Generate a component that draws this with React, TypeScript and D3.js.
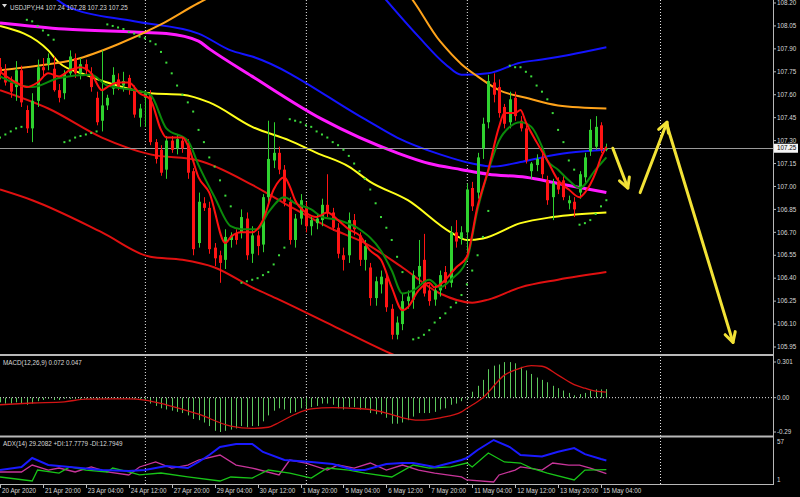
import React from "react";
import * as d3 from "d3";

const W = 800;
const H = 497;

// ---------- time axis ----------
const timeLabels = [
  "20 Apr 2020", "21 Apr 20:00", "23 Apr 04:00", "24 Apr 12:00", "27 Apr 20:00",
  "29 Apr 04:00", "30 Apr 12:00", "1 May 20:00", "5 May 04:00", "6 May 12:00",
  "7 May 20:00", "11 May 04:00", "12 May 12:00", "13 May 20:00", "15 May 04:00",
];
const timeTickBars = [0, 8, 16, 24, 32, 40, 48, 56, 64, 72, 80, 88, 96, 104, 112];
const gridBars = [27, 57, 87, 123];

// ---------- price axis ----------
const priceTicks = [108.2, 108.05, 107.9, 107.75, 107.6, 107.45, 107.3, 107.15, 107.0, 106.85, 106.7, 106.55, 106.4, 106.25, 106.1, 105.95];
const bidPrice = 107.25;

// ---------- candles (USDJPY H4) ----------
const opens = [
  107.78, 107.76, 107.68, 107.65, 107.76, 107.50, 107.38, 107.56, 107.78, 107.80,
  107.77, 107.63, 107.61, 107.74, 107.84, 107.74, 107.80, 107.74, 107.58, 107.43,
  107.53, 107.64, 107.70, 107.66, 107.71, 107.64, 107.45, 107.58, 107.60, 107.29,
  107.24, 107.11, 107.30, 107.25, 107.30, 107.28, 107.10, 106.63, 106.89, 106.86,
  106.60, 106.55, 106.52, 106.65, 106.69, 106.70, 106.79, 106.56, 106.68, 106.62,
  106.93, 107.17, 107.22, 107.11, 106.90, 106.65, 106.79, 106.87, 106.74, 106.76,
  106.78, 106.88, 106.83, 106.73, 106.55, 106.55, 106.78, 106.68, 106.52, 106.47,
  106.27, 106.36, 106.40, 106.20, 106.03, 106.10, 106.25, 106.26, 106.41, 106.52,
  106.32, 106.26, 106.32, 106.44, 106.37, 106.70, 106.66, 106.70, 106.99, 106.96,
  107.25, 107.42, 107.68, 107.65, 107.52, 107.42, 107.58, 107.43, 107.38, 107.10,
  107.14, 107.19, 107.04, 106.93, 107.03, 107.04, 106.89, 106.90, 106.96, 107.06,
  107.23, 107.26, 107.40, 107.24,
];
const highs = [
  107.84, 107.80, 107.72, 107.82, 107.79, 107.53, 107.61, 107.83, 107.84, 107.87,
  107.85, 107.67, 107.76, 107.89, 107.87, 107.84, 107.83, 107.78, 107.62, 107.89,
  107.60, 107.78, 107.74, 107.75, 107.73, 107.66, 107.54, 107.62, 107.63, 107.31,
  107.27, 107.33, 107.33, 107.34, 107.33, 107.31, 107.12, 106.96, 106.93, 106.90,
  106.63, 106.58, 106.72, 106.70, 106.72, 106.85, 106.83, 106.74, 106.71, 106.95,
  107.43, 107.42, 107.26, 107.14, 106.93, 106.82, 106.95, 106.90, 106.80, 106.82,
  106.92, 107.08, 106.86, 106.76, 106.60, 106.83, 106.82, 106.70, 106.65, 106.50,
  106.41, 106.45, 106.43, 106.23, 106.15, 106.30, 106.32, 106.45, 106.65, 106.69,
  106.36, 106.36, 106.45, 106.48, 106.74, 106.78, 106.74, 107.02, 107.03, 107.22,
  107.45, 107.73, 107.74, 107.70, 107.54, 107.62, 107.62, 107.46, 107.40, 107.16,
  107.21, 107.22, 107.07, 107.05, 107.06, 107.07, 106.94, 106.93, 107.10, 107.22,
  107.44, 107.46, 107.42, 107.28,
];
const lows = [
  107.70, 107.66, 107.58, 107.56, 107.52, 107.35, 107.29, 107.52, 107.72, 107.76,
  107.62, 107.55, 107.57, 107.72, 107.71, 107.70, 107.73, 107.62, 107.40, 107.36,
  107.50, 107.60, 107.63, 107.62, 107.60, 107.45, 107.39, 107.39, 107.27, 107.15,
  107.07, 107.05, 107.22, 107.21, 107.22, 107.05, 106.55, 106.60, 106.84, 106.56,
  106.48, 106.37, 106.46, 106.60, 106.62, 106.66, 106.52, 106.50, 106.55, 106.57,
  106.88, 107.12, 107.08, 106.87, 106.62, 106.60, 106.75, 106.70, 106.68, 106.72,
  106.74, 106.80, 106.71, 106.53, 106.45, 106.50, 106.68, 106.48, 106.45, 106.22,
  106.22, 106.30, 106.18, 106.00, 106.00, 106.06, 106.20, 106.20, 106.36, 106.28,
  106.22, 106.22, 106.28, 106.33, 106.34, 106.60, 106.62, 106.55, 106.84, 106.92,
  107.18, 107.38, 107.55, 107.45, 107.38, 107.38, 107.43, 107.36, 107.15, 107.05,
  107.10, 107.05, 106.88, 106.78, 106.95, 106.91, 106.85, 106.80, 106.92, 107.02,
  107.20, 107.24, 107.22, 107.23,
];
const closes = [
  107.74, 107.68, 107.62, 107.76, 107.55, 107.38, 107.56, 107.78, 107.76, 107.84,
  107.63, 107.58, 107.74, 107.85, 107.74, 107.80, 107.76, 107.65, 107.42, 107.53,
  107.58, 107.73, 107.65, 107.69, 107.64, 107.47, 107.51, 107.61, 107.29, 107.18,
  107.09, 107.30, 107.24, 107.31, 107.25, 107.09, 106.59, 106.90, 106.86, 106.59,
  106.53, 106.50, 106.67, 106.68, 106.65, 106.80, 106.55, 106.68, 106.61, 106.93,
  107.18, 107.22, 107.11, 106.90, 106.65, 106.79, 106.91, 106.74, 106.78, 106.79,
  106.88, 106.83, 106.73, 106.56, 106.52, 106.78, 106.72, 106.52, 106.61, 106.27,
  106.38, 106.41, 106.21, 106.03, 106.11, 106.25, 106.28, 106.42, 106.48, 106.30,
  106.25, 106.32, 106.42, 106.37, 106.70, 106.64, 106.70, 106.98, 106.87, 107.19,
  107.41, 107.69, 107.60, 107.48, 107.41, 107.57, 107.46, 107.38, 107.17, 107.15,
  107.18, 107.08, 106.91, 107.02, 106.98, 106.93, 106.91, 106.85, 107.08, 107.19,
  107.37, 107.39, 107.24, 107.25,
];

// ---------- main-chart indicator lines: [bar, price] ----------
const fastMA: [number, number][] = [
  [0, 107.75], [3, 107.68], [5, 107.65], [7, 107.68], [9, 107.74], [11, 107.72], [13, 107.76], [15, 107.78],
  [17, 107.74], [19, 107.63], [20, 107.65], [22, 107.68], [24, 107.68], [26, 107.61], [28, 107.57], [30, 107.37],
  [31, 107.32], [34, 107.32], [35, 107.27], [37, 107.06], [39, 106.96], [42, 106.63], [43, 106.67], [45, 106.7],
  [47, 106.7], [49, 106.78], [51, 106.98], [53, 107.06], [54, 107.0], [55, 106.91], [57, 106.83], [59, 106.8],
  [61, 106.83], [63, 106.78], [65, 106.72], [67, 106.68], [69, 106.58], [71, 106.52], [73, 106.34], [75, 106.19],
  [76, 106.21], [78, 106.32], [80, 106.37], [81, 106.34], [83, 106.39], [85, 106.47], [87, 106.54], [89, 106.87],
  [91, 107.11], [93, 107.39], [94, 107.48], [96, 107.48], [97, 107.5], [98, 107.42], [100, 107.29], [102, 107.17],
  [104, 107.04], [106, 106.98], [108, 106.93], [109, 106.96], [111, 107.09], [112, 107.19], [113, 107.26],
];
const slowMA: [number, number][] = [
  [0, 107.72], [6, 107.65], [11, 107.71], [17, 107.73], [20, 107.66], [25, 107.63], [28, 107.6], [31, 107.38],
  [35, 107.3], [37, 107.14], [40, 106.93], [43, 106.74], [45, 106.72], [48, 106.72], [50, 106.83], [53, 106.93],
  [55, 106.89], [58, 106.85], [60, 106.8], [63, 106.78], [67, 106.72], [71, 106.58], [73, 106.45], [75, 106.3],
  [77, 106.32], [80, 106.39], [82, 106.34], [84, 106.39], [87, 106.52], [89, 106.85], [91, 107.1], [93, 107.3],
  [95, 107.39], [97, 107.42], [99, 107.39], [101, 107.26], [102, 107.17], [104, 107.11], [106, 107.04], [108, 106.99],
  [111, 107.11], [113, 107.19],
];
const magentaMA: [number, number][] = [
  [0, 108.07], [12, 108.03], [25, 108.01], [31, 108.0], [37, 107.95], [39, 107.9], [47, 107.72], [60, 107.44],
  [74, 107.22], [80, 107.15], [86, 107.11], [91, 107.08], [98, 107.06], [104, 107.02], [113, 106.96],
];
const blueLower: [number, number][] = [
  [8, 108.3], [13, 108.17], [25, 108.08], [37, 108.0], [43, 107.89], [47, 107.85], [68, 107.44], [74, 107.32],
  [82, 107.21], [88, 107.15], [92, 107.13], [97, 107.16], [101, 107.19], [106, 107.22], [113, 107.24],
];
const blueUpper: [number, number][] = [
  [70, 108.3], [78, 107.98], [83, 107.8], [86, 107.73], [91, 107.74], [97, 107.81], [101, 107.83], [106, 107.86],
  [113, 107.91],
];
const orangeMA: [number, number][] = [
  [0, 107.76], [7, 107.79], [14, 107.83], [22, 107.93], [30, 108.06], [37, 108.2], [50, 108.4], [65, 108.45],
  [75, 108.3], [82, 107.95], [86, 107.8], [89, 107.72], [93, 107.63], [98, 107.58], [104, 107.53], [113, 107.51],
];
const yellowMA: [number, number][] = [
  [0, 108.05], [9, 107.89], [11, 107.81], [16, 107.73], [20, 107.68], [25, 107.63], [28, 107.61], [34, 107.6],
  [39, 107.55], [47, 107.39], [54, 107.3], [59, 107.22], [65, 107.13], [69, 107.03], [76, 106.91], [84, 106.7],
  [87, 106.65], [90, 106.66], [97, 106.76], [103, 106.8], [113, 106.83],
];
const redMiddle: [number, number][] = [
  [0, 107.63], [9, 107.51], [19, 107.32], [28, 107.21], [37, 107.17], [47, 107.01], [53, 106.89], [62, 106.72],
  [68, 106.63], [75, 106.47], [82, 106.3], [88, 106.24], [91, 106.26], [97, 106.34], [104, 106.39], [113, 106.44],
];
const redLower: [number, number][] = [
  [0, 106.98], [6, 106.91], [19, 106.7], [28, 106.54], [34, 106.52], [40, 106.47], [47, 106.34], [52, 106.26],
  [62, 106.09], [72, 105.92], [80, 105.8],
];
const sarDots: [number, number][] = [
  [0, 107.32], [1, 107.34], [2, 107.36], [3, 107.38], [4, 107.39],
  [5, 108.09], [6, 108.08], [7, 108.05], [8, 108.02], [9, 107.99], [10, 107.96],
  [12, 107.29], [13, 107.3], [14, 107.32], [15, 107.33], [16, 107.34], [17, 107.35], [18, 107.36],
  [20, 108.06], [21, 108.05], [22, 108.04], [23, 108.03], [24, 108.01], [25, 108.0], [26, 107.98], [27, 107.97],
  [28, 107.95], [29, 107.93], [30, 107.88], [31, 107.81], [32, 107.74], [33, 107.66], [34, 107.6], [35, 107.55],
  [36, 107.49], [37, 107.37], [38, 107.29], [39, 107.19], [40, 107.13], [41, 107.04], [42, 106.94], [43, 106.87],
  [45, 106.37], [46, 106.38], [47, 106.39], [48, 106.4], [49, 106.42], [50, 106.44], [51, 106.49], [52, 106.55], [53, 106.6],
  [54, 107.44], [55, 107.43], [56, 107.42], [57, 107.4], [58, 107.39], [59, 107.36], [60, 107.34], [61, 107.32],
  [62, 107.29], [63, 107.27], [64, 107.24], [65, 107.2], [66, 107.15], [67, 107.1], [68, 107.05], [69, 106.98],
  [70, 106.89], [71, 106.8], [72, 106.73], [73, 106.65], [74, 106.54], [75, 106.44],
  [77, 106.0], [78, 106.01], [79, 106.03], [80, 106.06], [81, 106.11], [82, 106.14], [83, 106.17], [84, 106.21],
  [85, 106.24], [86, 106.29], [87, 106.36], [88, 106.45], [89, 106.55], [90, 106.67], [91, 106.84],
  [95, 107.79], [96, 107.78], [97, 107.78], [98, 107.75], [99, 107.72], [100, 107.66], [101, 107.62], [102, 107.57],
  [103, 107.48], [104, 107.37], [105, 107.29], [106, 107.17], [107, 107.11],
  [108, 106.75], [109, 106.76], [110, 106.78], [111, 106.82], [112, 106.87], [113, 106.91],
];
// hand-drawn forecast arrows: [bar, price]
const forecastArrows: [number, number][][] = [
  [[114.2, 107.25], [117.0, 106.99]],
  [[119.3, 106.96], [124.3, 107.42]],
  [[124.3, 107.4], [136.6, 105.98]],
];

// ---------- MACD(12,26,9) ----------
const macdHist = [
  -0.04, -0.05, -0.05, -0.04, -0.05, -0.06, -0.05,
  -0.03, -0.02, -0.01, -0.02, -0.02, -0.01, -0.01, -0.01, -0.01,
  -0.01, -0.01, -0.02, -0.01, -0.01, -0.005, -0.005, -0.005, -0.01, -0.01, -0.01,
  -0.02, -0.05, -0.07, -0.09, -0.1, -0.11, -0.12, -0.13, -0.15,
  -0.18, -0.19, -0.21, -0.24, -0.28, -0.29, -0.28, -0.27, -0.26, -0.24, -0.25, -0.24, -0.24,
  -0.2, -0.15, -0.11, -0.09, -0.1, -0.13, -0.12, -0.09, -0.09, -0.08, -0.07,
  -0.05, -0.05, -0.06, -0.09, -0.1, -0.08, -0.08, -0.1, -0.09,
  -0.13, -0.14, -0.14, -0.17, -0.22, -0.22, -0.21, -0.19, -0.16, -0.13, -0.13, -0.13, -0.12, -0.1, -0.09, -0.06, -0.05, -0.03,
  -0.01, 0.05, 0.1, 0.15, 0.24, 0.27, 0.28, 0.3, 0.3, 0.29, 0.26, 0.23, 0.2, 0.17, 0.15, 0.13, 0.1, 0.08, 0.06, 0.04, 0.02,
  0.03, 0.04, 0.06, 0.07, 0.07, 0.072,
];
const macdSignal: [number, number][] = [
  [0, -0.06], [6, -0.045], [12, -0.035], [16, -0.012], [24, -0.01], [27, -0.02], [31, -0.06], [37, -0.14],
  [43, -0.24], [47, -0.26], [50, -0.25], [52, -0.21], [55, -0.14], [58, -0.095], [62, -0.085], [66, -0.09],
  [69, -0.1], [72, -0.13], [75, -0.17], [78, -0.19], [80, -0.185], [82, -0.17], [86, -0.12], [87, -0.09],
  [90, 0.0], [94, 0.19], [97, 0.25], [99, 0.27], [101, 0.265], [104, 0.19], [107, 0.11], [109, 0.08],
  [111, 0.055], [113, 0.047],
];
const macdTicks = [0.301, 0.0, -0.29];
const macdTickLabels = ["0.301", "0.00", "-0.29"];

// ---------- ADX(14) ----------
const adxMain: [number, number][] = [
  [0, 17.3], [4, 21.1], [6, 32.2], [9, 23.5], [13, 21.1], [19, 17.3], [24, 16.1], [27, 17.3], [31, 22.3],
  [35, 19.8], [37, 27.3], [39, 35.9], [41, 45.8], [44, 49.6], [47, 49.6], [49, 39.7], [53, 29.7], [58, 27.3],
  [62, 24.8], [66, 17.3], [68, 17.3], [72, 24.8], [75, 26], [77, 26], [81, 21.1], [86, 29.7], [87, 32.2],
  [89, 42.1], [92, 54.5], [95, 45.8], [97, 35.9], [101, 34], [104, 40], [107, 44.6], [109, 37], [112, 31], [113, 29.2],
];
const adxPlusDI: [number, number][] = [
  [0, 8.7], [6, 3.7], [7, 17.3], [11, 13.6], [13, 21.1], [16, 17.3], [20, 14.9], [21, 19.8], [24, 14.9],
  [26, 11.2], [30, 13.6], [35, 8.7], [41, 3.7], [43, 8.7], [47, 7.4], [50, 17.3], [54, 13.6], [58, 7.4],
  [61, 19.8], [65, 17.3], [68, 13.6], [73, 8.7], [77, 23.5], [80, 19.8], [84, 21.1], [87, 26], [88, 21.1],
  [91, 38.4], [94, 27.3], [97, 26], [99, 19.8], [102, 13.6], [107, 5], [109, 17.3], [113, 17.8],
];
const adxMinusDI: [number, number][] = [
  [0, 14.9], [4, 14.9], [6, 23.5], [9, 17.3], [11, 19.8], [14, 14.9], [17, 21.1], [20, 14.9], [24, 11.2],
  [26, 21.1], [29, 27.3], [32, 19.8], [35, 23.5], [37, 29.7], [41, 35.9], [44, 23.5], [47, 19.8], [52, 11.2],
  [54, 29.7], [57, 26], [61, 17.3], [63, 23.5], [66, 19.8], [69, 26], [72, 17.3], [75, 23.5], [78, 17.3],
  [81, 13.6], [86, 8.7], [87, 5], [92, 2.5], [93, 11.2], [96, 17.3], [97, 21.1], [101, 17.3], [103, 26],
  [106, 23.5], [108, 23.5], [110, 19.8], [113, 12.8],
];
const adxTicks = [57, 1];

const FONT = "'Liberation Sans', Arial, sans-serif";
const TXT = "#d8d8d8";
const FRAME = "#b8b8b8";
const BULL = "#2fd22f";
const BEAR = "#ff1414";

export default function App() {
  const plotRight = 773;
  const x = d3.scaleLinear().domain([0, 112]).range([0, 601]);
  const yP = d3.scaleLinear().domain([105.95, 108.2]).range([347, 3]);
  const yM = d3.scaleLinear().domain([-0.29, 0.301]).range([432, 362]);
  const yA = d3.scaleLinear().domain([0, 57]).range([484, 438]);

  const smooth = (ys: d3.ScaleLinear<number, number>) =>
    d3.line<[number, number]>().x((d) => x(d[0])).y((d) => ys(d[1])).curve(d3.curveMonotoneX);
  const straight = (ys: d3.ScaleLinear<number, number>) =>
    d3.line<[number, number]>().x((d) => x(d[0])).y((d) => ys(d[1]));

  const pLine = smooth(yP);
  const bodyW = 3;

  const arrowHead = (pts: [number, number][]) => {
    const a = pts[pts.length - 2];
    const b = pts[pts.length - 1];
    const x1 = x(a[0]), y1 = yP(a[1]), x2 = x(b[0]), y2 = yP(b[1]);
    const ang = Math.atan2(y2 - y1, x2 - x1);
    const L = 11, spread = 0.5;
    const p1 = [x2 - L * Math.cos(ang - spread), y2 - L * Math.sin(ang - spread)];
    const p2 = [x2 - L * Math.cos(ang + spread), y2 - L * Math.sin(ang + spread)];
    return `M${p1[0]},${p1[1]}L${x2},${y2}L${p2[0]},${p2[1]}`;
  };

  const zeroY = yM(0);

  return (
    <svg
      width={W}
      height={H}
      style={{ position: "absolute", left: 0, top: 0, background: "#000", display: "block" }}
      fontFamily={FONT}
    >
      <defs>
        <clipPath id="mainClip"><rect x={0} y={0} width={plotRight} height={354} /></clipPath>
        <clipPath id="macdClip"><rect x={0} y={357} width={plotRight} height={78} /></clipPath>
        <clipPath id="adxClip"><rect x={0} y={438} width={plotRight} height={46} /></clipPath>
      </defs>
      <rect x={0} y={0} width={W} height={H} fill="#000" />

      {/* grid verticals */}
      {gridBars.map((b) => (
        <line key={"g" + b} x1={x(b) + 0.5} x2={x(b) + 0.5} y1={0} y2={484} stroke="#e8e8e8" strokeWidth={1} strokeDasharray="1,2" />
      ))}

      {/* ---------------- main chart ---------------- */}
      <g clipPath="url(#mainClip)">
        <path d={pLine(redLower) || ""} fill="none" stroke="#e01010" strokeWidth={2} />
        <path d={pLine(redMiddle) || ""} fill="none" stroke="#e01010" strokeWidth={2} />
        <path d={pLine(blueLower) || ""} fill="none" stroke="#1414ff" strokeWidth={2} />
        <path d={pLine(blueUpper) || ""} fill="none" stroke="#1414ff" strokeWidth={2} />
        <path d={pLine(magentaMA) || ""} fill="none" stroke="#ff1aff" strokeWidth={3} />
        <path d={pLine(yellowMA) || ""} fill="none" stroke="#ffff1a" strokeWidth={2} />
        <path d={pLine(orangeMA) || ""} fill="none" stroke="#ffa31a" strokeWidth={2} />

        {/* bid line */}
        <line x1={0} x2={plotRight} y1={Math.round(yP(bidPrice)) + 0.5} y2={Math.round(yP(bidPrice)) + 0.5} stroke="#9a9a9a" strokeWidth={1} />

        {/* candles */}
        {closes.map((c, i) => {
          const o = opens[i];
          const up = c >= o;
          const col = up ? BULL : BEAR;
          const cx = Math.round(x(i)) + 0.5;
          const top = yP(Math.max(o, c));
          const bot = yP(Math.min(o, c));
          return (
            <g key={"c" + i}>
              <line x1={cx} x2={cx} y1={yP(highs[i])} y2={yP(lows[i])} stroke={col} strokeWidth={1} />
              <rect x={cx - bodyW / 2} y={top} width={bodyW} height={Math.max(1, bot - top)} fill={col} />
            </g>
          );
        })}

        <path d={pLine(slowMA) || ""} fill="none" stroke="#0b8a0b" strokeWidth={2} />
        <path d={pLine(fastMA) || ""} fill="none" stroke="#ff1010" strokeWidth={2} />

        {sarDots.map((d, i) => (
          <rect key={"s" + i} x={x(d[0]) - 1} y={yP(d[1]) - 1} width={2} height={2} fill="#3cdc3c" />
        ))}

        {forecastArrows.map((pts, i) => (
          <g key={"a" + i}>
            <path d={straight(yP)(pts) || ""} fill="none" stroke="#f2e236" strokeWidth={3} strokeLinecap="round" />
            <path d={arrowHead(pts)} fill="none" stroke="#f2e236" strokeWidth={3} strokeLinecap="round" strokeLinejoin="round" />
          </g>
        ))}
      </g>

      {/* header */}
      <path d="M2,4 L7,4 L4.5,7.5 Z" fill={TXT} />
      <text x={10} y={9.5} fontSize={6.3} fill={TXT}>USDJPY,H4  107.24 107.28 107.23 107.25</text>

      {/* ---------------- MACD ---------------- */}
      <g clipPath="url(#macdClip)">
        <line x1={0} x2={plotRight} y1={zeroY} y2={zeroY} stroke="#e8e8e8" strokeWidth={1} strokeDasharray="1,2" />
        {macdHist.map((v, i) => (
          <line key={"h" + i} x1={Math.round(x(i)) + 0.5} x2={Math.round(x(i)) + 0.5} y1={zeroY} y2={yM(v)} stroke="#5cc85c" strokeWidth={1} />
        ))}
        <path d={smooth(yM)(macdSignal) || ""} fill="none" stroke="#d21414" strokeWidth={1.3} />
      </g>
      <text x={3} y={365} fontSize={6.3} fill={TXT}>MACD(12,26,9) 0.072 0.047</text>

      {/* ---------------- ADX ---------------- */}
      <g clipPath="url(#adxClip)">
        <path d={straight(yA)(adxMinusDI) || ""} fill="none" stroke="#c8359a" strokeWidth={1.3} />
        <path d={straight(yA)(adxPlusDI) || ""} fill="none" stroke="#18c418" strokeWidth={1.3} />
        <path d={straight(yA)(adxMain) || ""} fill="none" stroke="#1a1aff" strokeWidth={2} />
      </g>
      <text x={3} y={446} fontSize={6.3} fill={TXT}>ADX(14) 29.2082 +DI:17.7779 -DI:12.7949</text>

      {/* ---------------- frames ---------------- */}
      <line x1={0} x2={plotRight + 1} y1={355} y2={355} stroke={FRAME} strokeWidth={2} />
      <line x1={0} x2={plotRight + 1} y1={436.5} y2={436.5} stroke={FRAME} strokeWidth={2} />
      <line x1={0} x2={plotRight + 1} y1={484.5} y2={484.5} stroke={FRAME} strokeWidth={1} />
      <line x1={plotRight + 0.5} x2={plotRight + 0.5} y1={0} y2={485} stroke={FRAME} strokeWidth={1} />

      {/* price axis */}
      {priceTicks.map((p) => (
        <g key={"p" + p}>
          <line x1={plotRight} x2={plotRight + 3} y1={yP(p)} y2={yP(p)} stroke={FRAME} />
          <text x={777} y={yP(p) + 2.2} fontSize={6.3} fill={TXT}>{p.toFixed(2)}</text>
        </g>
      ))}
      <rect x={774} y={yP(bidPrice) - 4.5} width={24} height={9} fill="#f4f4f4" />
      <text x={777} y={yP(bidPrice) + 2.2} fontSize={6.3} fill="#000">{bidPrice.toFixed(2)}</text>

      {/* macd axis */}
      {macdTicks.map((v, k) => (
        <g key={"m" + k}>
          <line x1={plotRight} x2={plotRight + 3} y1={yM(v)} y2={yM(v)} stroke={FRAME} />
          <text x={777} y={yM(v) + 2.2} fontSize={6.3} fill={TXT}>{macdTickLabels[k]}</text>
        </g>
      ))}

      {/* adx axis */}
      {adxTicks.map((v) => (
        <text key={"ax" + v} x={777} y={v > 10 ? yA(v) + 6 : yA(v) - 1} fontSize={6.3} fill={TXT}>{v}</text>
      ))}

      {/* time axis */}
      {timeTickBars.map((b, k) => (
        <g key={"t" + b}>
          <line x1={Math.round(x(b)) + 0.5} x2={Math.round(x(b)) + 0.5} y1={484} y2={488} stroke={FRAME} />
          <text x={x(b) + 2} y={492.5} fontSize={6.3} fill={TXT}>{timeLabels[k]}</text>
        </g>
      ))}
    </svg>
  );
}
